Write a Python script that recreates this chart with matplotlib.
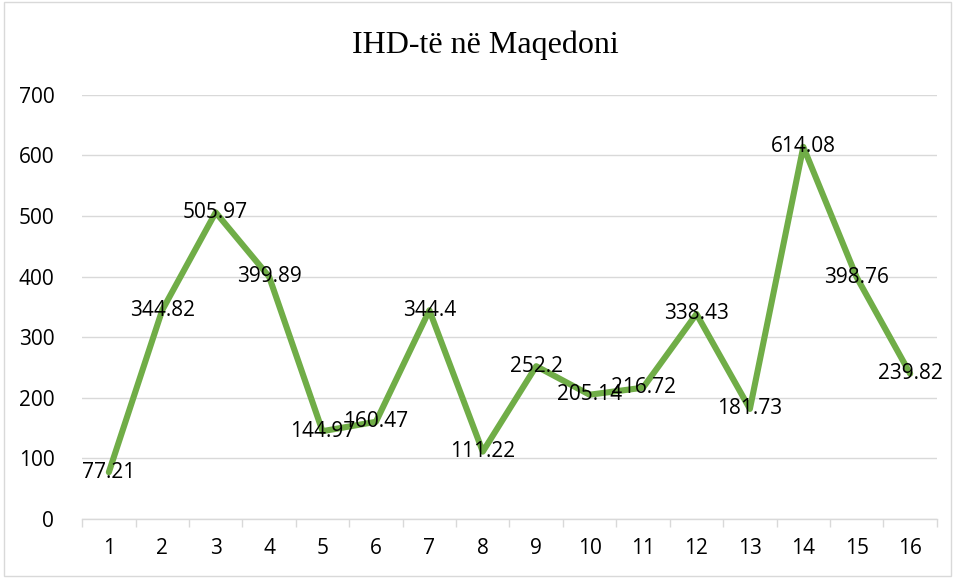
import matplotlib.pyplot as plt
from matplotlib.patches import Rectangle

x = list(range(1, 17))
values = [77.21, 344.82, 505.97, 399.89, 144.97, 160.47, 344.4, 111.22,
          252.2, 205.14, 216.72, 338.43, 181.73, 614.08, 398.76, 239.82]
labels = ["77.21", "344.82", "505.97", "399.89", "144.97", "160.47", "344.4", "111.22",
          "252.2", "205.14", "216.72", "338.43", "181.73", "614.08", "398.76", "239.82"]
title = "IHD-të në Maqedoni"

fig = plt.figure(figsize=(9.55, 5.78), dpi=100)
ax = fig.add_axes([0.086, 0.102, 0.895, 0.734])

ax.plot(x, values, color="#70AD47", linewidth=4.4, solid_capstyle="round", zorder=3)
for xi, v, lab in zip(x, values, labels):
    ax.text(xi, v, lab, ha="center", va="center", fontsize=15,
            family="Open Sans", color="#000000", zorder=4)

ax.set_xlim(0.5, 16.5)
ax.set_ylim(0, 700)
ax.set_yticks(range(0, 701, 100))
ax.set_xticks(x)
ax.set_xticks([i + 0.5 for i in range(0, 17)], minor=True)
ax.tick_params(axis="x", which="major", length=0, pad=14, labelsize=15)
ax.tick_params(axis="x", which="minor", length=6, color="#D9D9D9", width=1)
ax.tick_params(axis="y", length=0, pad=20, labelsize=15)
for lab in ax.get_xticklabels() + ax.get_yticklabels():
    lab.set_family("Open Sans")

ax.grid(axis="y", color="#D9D9D9", linewidth=1)
ax.set_axisbelow(True)
for s in ["top", "right", "left"]:
    ax.spines[s].set_visible(False)
ax.spines["bottom"].set_color("#D9D9D9")
ax.spines["bottom"].set_linewidth(1)

fig.text(0.508, 0.922, title, ha="center", va="center", fontsize=23,
         family="Liberation Serif")

fig.patches.append(Rectangle((0.004, 0.003), 0.992, 0.994, transform=fig.transFigure,
                             fill=False, edgecolor="#D9D9D9", linewidth=1))

fig.savefig("out.png", dpi=100)
